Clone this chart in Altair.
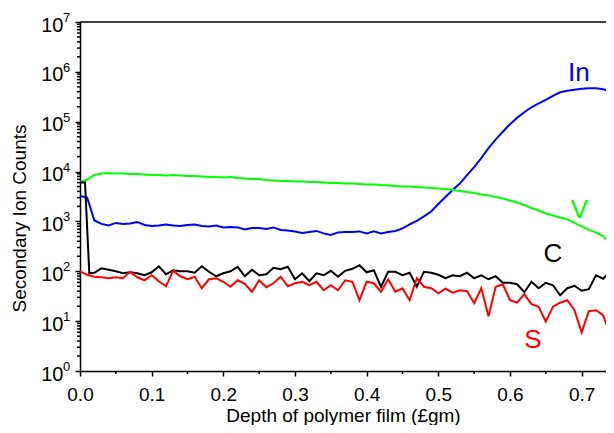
import altair as alt
import pandas as pd

# depth grid (µm) shared by In, V and S
depth = [round(i * 0.01, 2) for i in range(75)]

# log10 of secondary ion counts
in_log = [3.51, 3.48, 3.02, 2.95, 2.92, 2.97, 2.95, 2.96, 2.99, 2.93,
          2.91, 2.92, 2.94, 2.92, 2.91, 2.93, 2.94, 2.91, 2.90, 2.92,
          2.88, 2.89, 2.88, 2.84, 2.87, 2.87, 2.85, 2.88, 2.83, 2.82,
          2.80, 2.77, 2.79, 2.81, 2.76, 2.73, 2.78, 2.79, 2.79, 2.80,
          2.76, 2.80, 2.76, 2.79, 2.81, 2.86, 2.94, 3.01, 3.10, 3.20,
          3.35, 3.49, 3.63, 3.76, 3.93, 4.09, 4.27, 4.47, 4.64, 4.80,
          4.95, 5.08, 5.19, 5.29, 5.37, 5.44, 5.52, 5.59, 5.62, 5.64,
          5.66, 5.67, 5.67, 5.65, 5.62]

v_log = [3.79, 3.84, 3.93, 3.96, 3.97, 3.96, 3.96, 3.95, 3.95, 3.94,
         3.93, 3.93, 3.92, 3.93, 3.92, 3.91, 3.91, 3.90, 3.89, 3.89,
         3.88, 3.89, 3.87, 3.86, 3.85, 3.85, 3.83, 3.82, 3.81, 3.81,
         3.80, 3.80, 3.79, 3.79, 3.78, 3.77, 3.77, 3.76, 3.76, 3.75,
         3.74, 3.74, 3.73, 3.72, 3.71, 3.70, 3.70, 3.69, 3.68, 3.67,
         3.66, 3.65, 3.63, 3.61, 3.59, 3.57, 3.54, 3.52, 3.49, 3.46,
         3.42, 3.38, 3.33, 3.27, 3.22, 3.16, 3.12, 3.08, 3.04, 2.97,
         2.90, 2.83, 2.78, 2.70, 2.56]

s_log = [2.00, 1.93, 1.89, 1.88, 1.86, 1.88, 1.86, 1.99, 1.88, 1.82,
         1.92, 1.80, 1.70, 2.01, 1.90, 1.84, 1.89, 1.66, 1.84, 1.86,
         1.79, 1.69, 1.82, 1.75, 1.59, 1.82, 1.68, 1.76, 1.89, 1.70,
         1.76, 1.79, 1.72, 1.79, 1.62, 1.72, 1.62, 1.82, 1.79, 1.42,
         1.79, 1.76, 1.59, 1.84, 1.59, 1.66, 1.42, 1.86, 1.69, 1.66,
         1.56, 1.65, 1.57, 1.62, 1.60, 1.36, 1.66, 1.10, 1.69, 1.74,
         1.42, 1.37, 1.54, 1.34, 1.29, 0.99, 1.29, 1.37, 1.42, 1.22,
         0.77, 1.20, 1.22, 1.12, 0.72]

c_depth = [0.0, 0.007, 0.013] + depth[2:]
c_log = [3.78, 3.78, 1.96,
         1.97, 2.06, 2.03, 2.00, 1.96, 1.98, 1.96, 1.92,
         1.98, 2.10, 1.94, 2.02, 2.00, 2.00, 1.97, 2.10, 1.99, 1.90,
         1.96, 2.00, 2.09, 1.90, 2.03, 1.92, 1.94, 2.07, 2.04, 2.09,
         1.84, 1.96, 1.80, 1.96, 1.92, 2.01, 1.89, 2.01, 2.05, 2.12,
         1.98, 2.02, 1.69, 1.99, 1.99, 1.92, 1.97, 1.69, 1.99, 1.97,
         1.93, 1.86, 1.92, 1.90, 1.97, 1.86, 1.92, 1.84, 1.90, 1.77,
         1.77, 1.74, 1.58, 1.79, 1.66, 1.77, 1.72, 1.52, 1.66, 1.71,
         1.61, 1.64, 1.92, 1.85, 2.00]

series_names = ["In", "V", "C", "S"]
series_colors = ["#0000ff", "#00ff00", "#000000", "#ff0000"]

# in-plot series labels (depth, counts)
label_depth = [0.696, 0.697, 0.660, 0.632]
label_counts = [9.4e5, 1700, 220, 4.2]

x_major = [0.0, 0.1, 0.2, 0.3, 0.4, 0.5, 0.6, 0.7]
x_minor = [0.05, 0.15, 0.25, 0.35, 0.45, 0.55, 0.65]
decades = [1, 10, 100, 1e3, 1e4, 1e5, 1e6, 1e7]
exponents = ["0", "1", "2", "3", "4", "5", "6", "7"]
y_minor = [m * d for d in decades[:-1] for m in range(2, 10)]

rows = []
for name, xs, ls in [("In", depth, in_log), ("V", depth, v_log),
                     ("C", c_depth, c_log), ("S", depth, s_log)]:
    for x, l in zip(xs, ls):
        rows.append({"series": name, "depth": x, "counts": 10 ** l})
df = pd.DataFrame(rows)

FONT = "Arial"
xscale = alt.Scale(domain=[0, 0.734], nice=False, zero=False)
yscale = alt.Scale(type="log", domain=[1, 1e7], nice=False)
cscale = alt.Scale(domain=series_names, range=series_colors)

common = dict(grid=False, tickColor="black", tickWidth=1.5, domainColor="black",
              domainWidth=1.5, labelFont=FONT, labelColor="black", labelFlush=False,
              labelOverlap=False, titleFont=FONT, titleFontSize=19,
              titleFontWeight="normal", titleColor="black")

x_axis = alt.Axis(
    values=x_major, title="Depth of polymer film (£gm)", format=".1f",
    tickSize=5, labelFontSize=19, labelPadding=9,
    titleY=50, titleBaseline="alphabetic", **common,
)
y_axis = alt.Axis(
    values=decades, title="Secondary Ion Counts", labelExpr="'10'",
    tickSize=5, labelFontSize=20, labelPadding=12, labelOffset=3,
    titleAngle=270, titleX=-61, titleY=196, titleAlign="center", titleBaseline="middle",
    **common,
)

lines = alt.Chart(df).mark_line(strokeWidth=2, clip=True).encode(
    x=alt.X("depth:Q", scale=xscale, axis=x_axis),
    y=alt.Y("counts:Q", scale=yscale, axis=y_axis),
    color=alt.Color("series:N", scale=cscale, legend=None),
    order=alt.Order("depth:Q"),
)

top = alt.Chart(pd.DataFrame({"counts": [1e7]})).mark_rule(
    color="black", strokeWidth=1.5
).encode(y=alt.Y("counts:Q"))

sup = alt.Chart(pd.DataFrame({"counts": decades, "e": exponents})).mark_text(
    align="left", baseline="alphabetic", font=FONT, fontSize=13, color="black"
).encode(
    x=alt.value(-17),
    y=alt.Y("counts:Q"),
    text="e:N",
)

# minor ticks drawn as short rules just outside the axes
ytick_minor = alt.Chart(pd.DataFrame({"counts": y_minor})).mark_rule(
    color="black", strokeWidth=1.5
).encode(y=alt.Y("counts:Q"), x=alt.value(-3), x2=alt.value(0))

xtick_minor = alt.Chart(pd.DataFrame({"depth": x_minor})).mark_rule(
    color="black", strokeWidth=1.5
).encode(x=alt.X("depth:Q"), y=alt.value(349), y2=alt.value(352))

labels = alt.Chart(pd.DataFrame({
    "depth": label_depth, "counts": label_counts, "series": series_names
})).mark_text(align="center", baseline="middle", font=FONT, fontSize=26).encode(
    x=alt.X("depth:Q"),
    y=alt.Y("counts:Q"),
    text="series:N",
    color=alt.Color("series:N", scale=cscale, legend=None),
)

chart = alt.layer(lines, top, sup, ytick_minor, xtick_minor, labels).properties(
    width=526, height=349,
    autosize=alt.AutoSizeParams(type="none"),
    padding={"left": 72, "top": 14, "right": 0, "bottom": 54},
).configure_view(stroke=None).configure(background="white")

chart.save("out.html", embed_options={"renderer": "svg", "actions": False})
